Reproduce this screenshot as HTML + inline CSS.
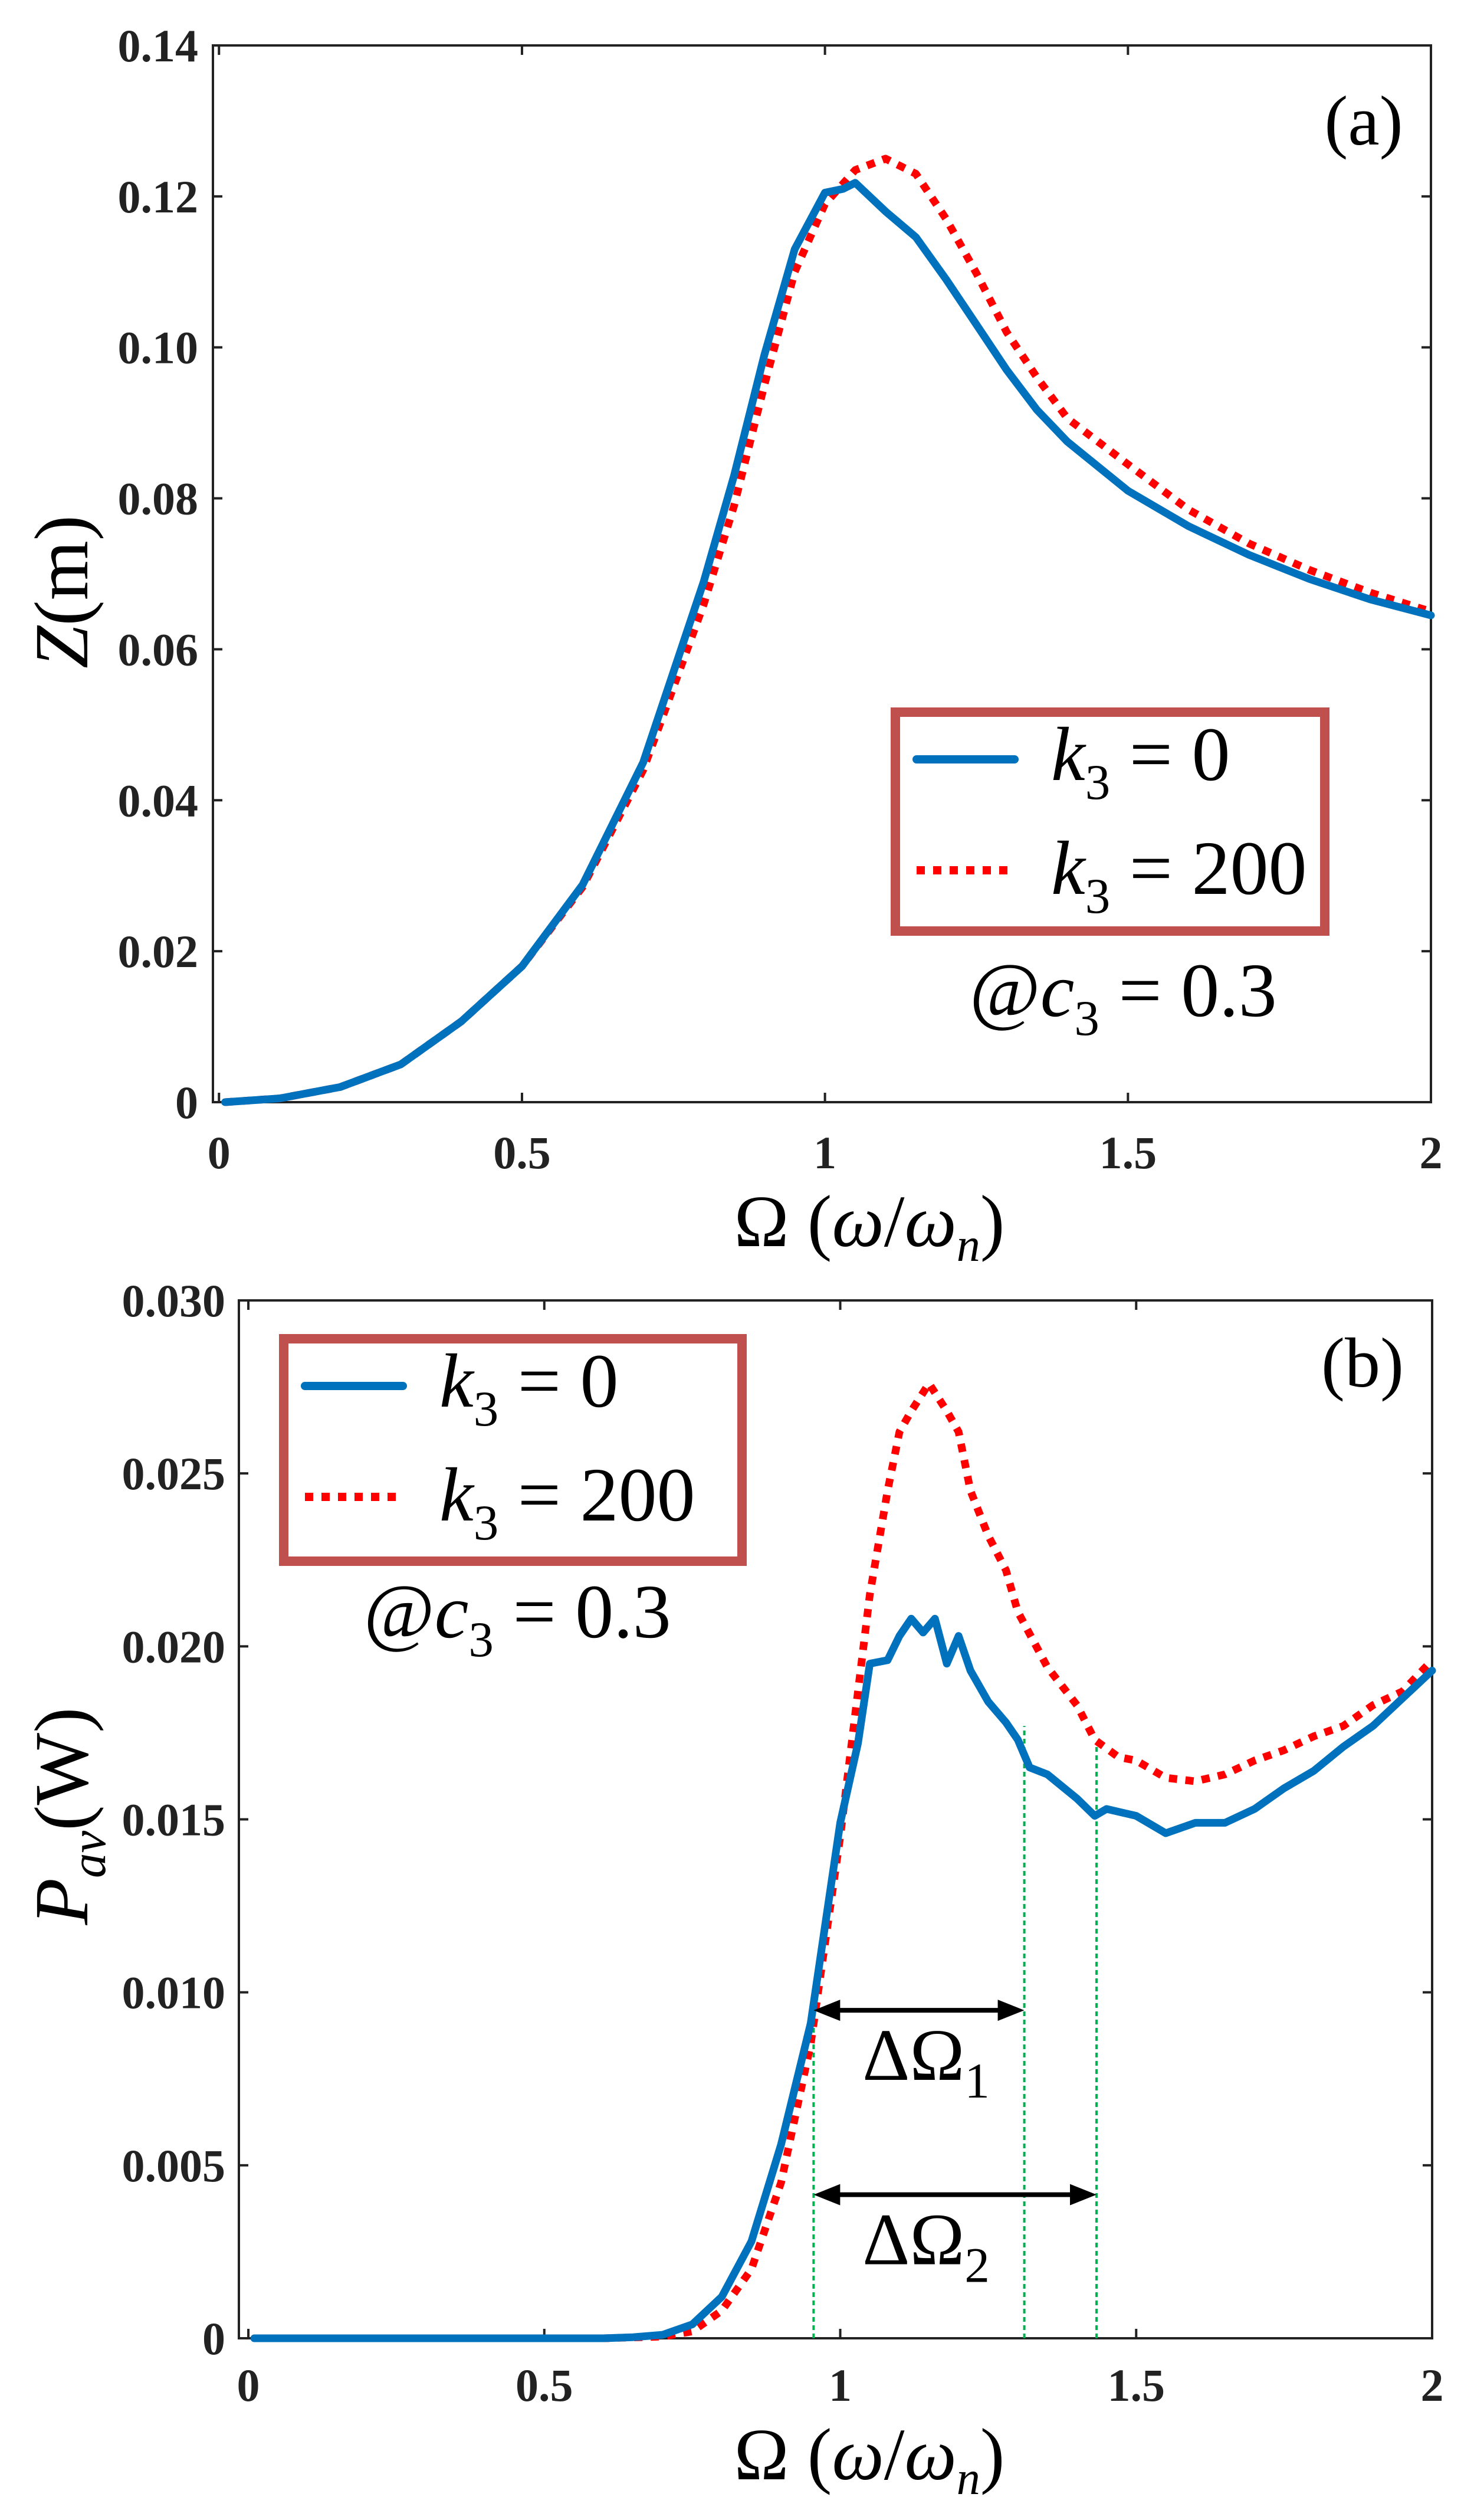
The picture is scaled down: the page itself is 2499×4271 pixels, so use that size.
<!DOCTYPE html>
<html><head><meta charset="utf-8"><style>
html,body{margin:0;padding:0;background:#fff;}
svg{display:block;font-family:"Liberation Serif",serif;}
svg text, svg tspan{font-family:"Liberation Serif",serif;}
.tick{font-weight:bold;font-size:78px;fill:#222;}
</style></head><body>
<svg id="fig" width="2499" height="4271" viewBox="0 0 2499 4271" xmlns="http://www.w3.org/2000/svg" font-family="Liberation Serif, serif">
<g id="pa"></g>
<g id="pb"></g>
</svg>
<script>
// ---------- Panel (a) data ----------
const aX = [0.01,0.1,0.2,0.3,0.4,0.5,0.6,0.7,0.8,0.85,0.9,0.95,1.0,1.03,1.05,1.1,1.15,1.2,1.25,1.3,1.35,1.4,1.5,1.6,1.7,1.8,1.9,2.0];
const aBlue = [0,0.0005,0.002,0.005,0.0107,0.018,0.0288,0.045,0.069,0.083,0.099,0.113,0.1205,0.121,0.1218,0.118,0.1146,0.109,0.103,0.097,0.0917,0.0875,0.081,0.0763,0.0725,0.0693,0.0666,0.0645];
const aRedX = [0.01,0.1,0.2,0.3,0.4,0.5,0.6,0.7,0.8,0.85,0.9,0.95,1.0,1.05,1.1,1.15,1.2,1.25,1.3,1.35,1.4,1.5,1.6,1.7,1.8,1.9,2.0];
const aRed = [0,0.0005,0.002,0.005,0.0107,0.018,0.0285,0.044,0.066,0.079,0.095,0.11,0.119,0.1235,0.125,0.123,0.117,0.1098,0.102,0.096,0.0906,0.0845,0.0785,0.074,0.0705,0.0675,0.065];
const aYTicks = [0,0.02,0.04,0.06,0.08,0.10,0.12,0.14];
const aYLabels = ["0","0.02","0.04","0.06","0.08","0.10","0.12","0.14"];
const xTicks = [0,0.5,1,1.5,2];
const xLabels = ["0","0.5","1","1.5","2"];
// ---------- Panel (b) data ----------
const bX = [0.01,0.2,0.4,0.6,0.65,0.7,0.75,0.8,0.85,0.9,0.95,1.0,1.03,1.05,1.08,1.1,1.12,1.14,1.16,1.18,1.2,1.22,1.25,1.28,1.3,1.32,1.35,1.4,1.43,1.45,1.5,1.55,1.6,1.65,1.7,1.75,1.8,1.85,1.9,1.95,2.0];
const bBlue = [0,0,0,0,0.00003,0.0001,0.0004,0.0012,0.0028,0.0056,0.0091,0.0149,0.0172,0.0195,0.0196,0.0203,0.0208,0.0204,0.0208,0.0195,0.0203,0.0193,0.0184,0.0178,0.0173,0.0165,0.0163,0.0156,0.0151,0.0153,0.0151,0.0146,0.0149,0.0149,0.0153,0.0159,0.0164,0.0171,0.0177,0.0185,0.0193];
const bRedX = [0.01,0.2,0.4,0.6,0.7,0.75,0.8,0.85,0.9,0.95,1.0,1.05,1.08,1.1,1.12,1.15,1.18,1.2,1.22,1.25,1.28,1.3,1.35,1.4,1.43,1.47,1.5,1.55,1.6,1.65,1.7,1.75,1.8,1.85,1.9,1.95,2.0];
const bRed = [0,0,0,0,0.00005,0.0002,0.0008,0.002,0.0045,0.0085,0.0145,0.0215,0.0245,0.0262,0.0268,0.0276,0.0268,0.0262,0.0245,0.0232,0.0222,0.021,0.0194,0.0183,0.0173,0.0168,0.0167,0.0162,0.0161,0.0163,0.0167,0.017,0.0174,0.0177,0.0183,0.0187,0.0196];
const bYTicks = [0,0.005,0.010,0.015,0.020,0.025,0.030];
const bYLabels = ["0","0.005","0.010","0.015","0.020","0.025","0.030"];
const guideX = [0.955,1.311,1.433];
const guideTop = [0.0095,0.0177,0.0172];
const arrowY = [0.00948,0.00415];
const arrowX2 = [1.311,1.433];

const NS="http://www.w3.org/2000/svg";
const FF='"Liberation Serif", serif';
function mk(parent,tag,attrs,text){const e=document.createElementNS(NS,tag);for(const k in attrs)e.setAttribute(k,attrs[k]);if(tag==='text')e.style.fontFamily=FF;if(text!==undefined)e.textContent=text;parent.appendChild(e);return e;}

function axes(g,L,R,T,B,xmin,xmax,ymax,yT,yL,labRight,xLabY){
  const sx=v=>L+(v-xmin)/(xmax-xmin)*(R-L);
  const sy=v=>B-v/ymax*(B-T);
  const box=mk(g,'rect',{x:L,y:T,width:R-L,height:B-T,fill:'none',stroke:'#222','stroke-width':4});
  
  
  yT.forEach((v,i)=>{
    const y=sy(v);
    mk(g,'line',{x1:L,x2:L+16,y1:y,y2:y,stroke:'#222','stroke-width':4});
    mk(g,'line',{x1:R,x2:R-16,y1:y,y2:y,stroke:'#222','stroke-width':4});
    const t=mk(g,'text',{x:labRight,y:y+27,'text-anchor':'end',class:'tick'},yL[i]);
    
    
  });
  xTicks.forEach((v,i)=>{
    const x=sx(v);
    mk(g,'line',{x1:x,x2:x,y1:B,y2:B-16,stroke:'#222','stroke-width':4});
    mk(g,'line',{x1:x,x2:x,y1:T,y2:T+16,stroke:'#222','stroke-width':4});
    const t=mk(g,'text',{x:x,y:xLabY,'text-anchor':'middle',class:'tick'},xLabels[i]);
    
    
  });
  return {sx,sy};
}
function series(g,sx,sy,xs,ys,color,dash,name){
  const d=xs.map((x,i)=>(i?'L':'M')+sx(x).toFixed(1)+','+sy(ys[i]).toFixed(1)).join(' ');
  const p=mk(g,'path',{d:d,fill:'none',stroke:color,'stroke-width':13,'stroke-linejoin':'round','stroke-linecap':dash?'butt':'round'});
  if(dash)p.setAttribute('stroke-dasharray',dash);
  
  
}
function legend(g,x1,y1,x2,y2){
  const r=mk(g,'rect',{x:x1,y:y1,width:x2-x1,height:y2-y1,fill:'#fff',stroke:'#c0504d','stroke-width':16});
  
  
  const lx=x1+36, tx=x1+264;
  const l1=mk(g,'line',{x1:lx,x2:lx+166,y1:y1+80,y2:y1+80,stroke:'#0072BD','stroke-width':14,'stroke-linecap':'round'});
  
  
  const l2=mk(g,'line',{x1:lx,x2:lx+166,y1:y1+268,y2:y1+268,stroke:'#ff0000','stroke-width':14,'stroke-dasharray':'14 14'});
  
  
  const t1=mk(g,'text',{x:tx,y:y1+115,'font-size':130});
  t1.innerHTML='<tspan font-style="italic">k</tspan><tspan font-size="85" dy="32">3</tspan><tspan dy="-32"> = 0</tspan>';
  
  
  const t2=mk(g,'text',{x:tx,y:y1+308,'font-size':130});
  t2.innerHTML='<tspan font-style="italic">k</tspan><tspan font-size="85" dy="32">3</tspan><tspan dy="-32"> = 200</tspan>';
  
  
}
function note(g,x,y){
  const t=mk(g,'text',{x:x,y:y,'font-size':130});
  t.innerHTML='@<tspan font-style="italic">c</tspan><tspan font-size="85" dy="32">3</tspan><tspan dy="-32"> = 0.3</tspan>';
  
  
}
function xTitle(g,cx,y){
  const t=mk(g,'text',{x:cx,y:y,'font-size':125,'text-anchor':'middle'});
  t.innerHTML='Ω (<tspan font-style="italic">ω</tspan>/<tspan font-style="italic">ω</tspan><tspan font-style="italic" font-size="80" dy="25">n</tspan><tspan dy="-25">)</tspan>';
  
  
}

// ---------- Panel (a) ----------
const ga=document.getElementById('pa');
const A=axes(ga,361,2426,77,1868,-0.01,2,0.14,aYTicks,aYLabels,336,1980);
series(ga,A.sx,A.sy,aRedX,aRed,'#ff0000','14 14','series-k3-200');
series(ga,A.sx,A.sy,aX,aBlue,'#0072BD',null,'series-k3-0');
legend(ga,1518,1207,2246,1578);
note(ga,1644,1722);
xTitle(ga,1474,2112);
{const t=mk(ga,'text',{x:0,y:0,'font-size':130,'text-anchor':'middle',transform:'translate(148,1003) rotate(-90)'});
t.innerHTML='<tspan font-style="italic">Z</tspan>(m)';

}
{const t=mk(ga,'text',{x:2312,y:245,'font-size':120,'text-anchor':'middle'},'(a)');

}

// ---------- Panel (b) ----------
const gb=document.getElementById('pb');
const Bx=axes(gb,405,2428,2204,3963,-0.016,2,0.030,bYTicks,bYLabels,382,4069);
guideX.forEach((x,i)=>{
  const l=mk(gb,'line',{x1:Bx.sx(x),x2:Bx.sx(x),y1:Bx.sy(0),y2:Bx.sy(guideTop[i]),stroke:'#00b050','stroke-width':4,'stroke-dasharray':'8 6'});
  
  
});
series(gb,Bx.sx,Bx.sy,bRedX,bRed,'#ff0000','14 14','series-k3-200');
series(gb,Bx.sx,Bx.sy,bX,bBlue,'#0072BD',null,'series-k3-0');
arrowY.forEach((v,i)=>{
  const y=Bx.sy(v), xa=Bx.sx(guideX[0]), xb=Bx.sx(arrowX2[i]);
  const ag=mk(gb,'g',{});
  
  
  mk(ag,'line',{x1:xa+30,x2:xb-30,y1:y,y2:y,stroke:'#000','stroke-width':8});
  mk(ag,'polygon',{points:`${xa},${y} ${xa+45},${y-18} ${xa+45},${y+18}`,fill:'#000'});
  mk(ag,'polygon',{points:`${xb},${y} ${xb-45},${y-18} ${xb-45},${y+18}`,fill:'#000'});
  const t=mk(gb,'text',{x:Bx.sx(1.145),y:y+118,'font-size':125,'text-anchor':'middle'});
  t.innerHTML='ΔΩ<tspan font-size="85" dy="30">'+(i+1)+'</tspan>';
  
  
});
legend(gb,481,2269,1258,2646);
note(gb,617,2775);
xTitle(gb,1474,4202);
{const t=mk(gb,'text',{x:0,y:0,'font-size':130,'text-anchor':'middle',transform:'translate(148,3078) rotate(-90)'});
t.innerHTML='<tspan font-style="italic">P</tspan><tspan font-style="italic" font-size="85" dy="30">av</tspan><tspan dy="-30">(W)</tspan>';

}
{const t=mk(gb,'text',{x:2310,y:2350,'font-size':120,'text-anchor':'middle'},'(b)');

}
</script>
</body></html>
